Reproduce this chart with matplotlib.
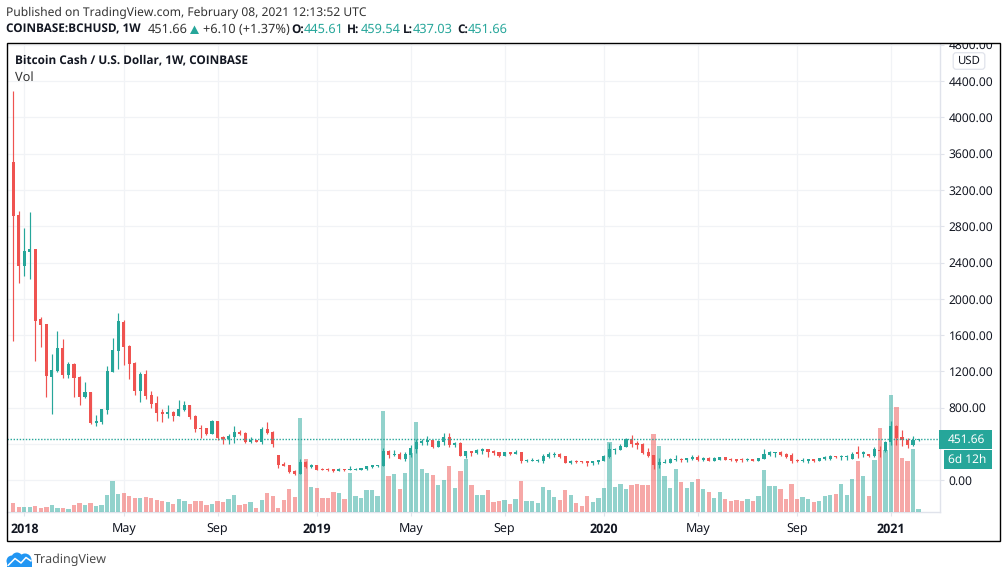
import matplotlib
matplotlib.use("Agg")
import matplotlib.pyplot as plt
import matplotlib.dates as mdates
import pandas as pd
from matplotlib.patches import Rectangle, FancyBboxPatch, Polygon, Circle
from matplotlib.transforms import Bbox

plt.rcParams['font.family'] = ['Noto Sans', 'DejaVu Sans']
plt.rcParams['text.hinting'] = 'none'
BOLD_FONT = ['Open Sans', 'Liberation Sans', 'DejaVu Sans']

# ---- data (weekly candles) ----
start_week = "2017-12-18"
opens = [3507,2923,2365,2519,2549,1777,1722,1142,1204,1458,
         1164,1282,1138,922,973,631,646,775,1193,1425,
         1744,1480,1293,984,1171,940,852,753,731,753,
         712,775,830,709,576,576,510,653,477,451,
         477,534,523,427,445,427,567,534,278,179,
         167,97,68,201,145,167,127,127,123,101,
         123,112,112,112,123,145,156,156,323,278,
         290,234,278,345,412,423,445,367,423,478,
         390,412,267,323,301,323,345,323,312,267,
         312,290,312,212,212,212,212,256,278,290,
         267,190,212,212,212,190,201,212,256,334,
         334,367,456,412,401,312,278,167,190,190,
         223,234,223,234,256,223,249,216,223,253,
         238,238,231,219,238,212,234,283,298,316,
         294,279,227,212,212,231,208,231,231,264,
         253,253,234,309,294,286,264,339,324,417,
         603,480,446,387,445.61]
highs = [4290,2968,2780,2957,2549,1799,1722,1392,1645,1557,
         1304,1293,1149,1083,973,720,786,1260,1568,1844,
         1766,1491,1304,1193,1215,984,929,786,830,764,
         885,874,830,720,609,576,664,653,488,510,
         598,556,530,478,447,589,645,545,278,201,
         167,108,234,212,179,167,138,138,123,134,
         123,156,134,134,156,167,167,356,334,334,
         312,312,390,456,456,489,445,445,523,523,
         423,423,323,323,345,356,345,334,312,312,
         312,334,312,234,245,234,290,312,312,301,
         267,223,223,212,212,212,223,278,412,356,
         401,467,500,434,412,356,278,245,234,245,
         278,245,245,278,278,253,253,253,260,253,
         249,238,242,249,238,249,346,324,309,324,
         301,301,234,242,231,231,249,272,279,272,
         275,275,309,376,324,294,368,376,435,658,
         614,558,465,491,459.54]
lows = [1539,2178,2255,2218,1318,1473,922,734,1193,1131,
        1131,922,833,911,620,602,624,734,1193,1226,
        1270,1116,940,863,896,797,653,642,687,653,
        712,764,676,532,466,499,510,444,400,400,
        411,497,415,415,425,404,508,371,138,156,
        79,60,68,134,134,112,112,101,90,101,
        101,112,112,112,112,134,145,156,245,267,
        234,212,256,301,390,390,356,367,390,367,
        367,267,245,267,290,290,256,278,256,267,
        278,290,190,201,212,201,190,245,256,245,
        190,179,190,190,156,167,179,212,245,290,
        334,367,367,345,290,256,123,134,190,190,
        212,201,201,223,212,216,212,212,223,227,
        212,197,205,212,212,212,234,268,253,268,
        246,190,205,205,190,201,208,223,223,246,
        223,223,234,246,253,253,253,253,316,391,
        391,379,361,379,437.03]
closes = [2916,2365,2527,2549,1759,1715,1153,1215,1458,1164,
          1282,1131,922,973,631,653,786,1204,1436,1755,
          1473,1282,984,1171,929,841,745,731,753,712,
          786,830,698,569,565,510,653,466,455,488,
          532,512,427,445,427,567,523,404,171,156,
          90,68,201,145,167,112,112,112,101,123,
          112,123,123,134,156,167,167,323,278,290,
          234,290,356,423,434,445,367,434,478,390,
          412,267,323,301,334,345,312,301,267,312,
          290,312,212,223,223,223,267,290,290,256,
          190,212,201,201,190,212,223,267,345,345,
          378,456,401,390,301,267,167,201,201,234,
          234,223,245,256,223,246,216,242,257,227,
          223,216,219,238,216,249,290,309,309,275,
          257,208,212,223,231,212,242,257,272,253,
          264,264,294,294,305,264,342,324,424,603,
          465,439,391,446,451.66]
volumes = [27,15,15,15,18,12,15,21,12,12,
           9,21,27,21,27,18,21,51,93,54,
           57,48,42,42,45,42,36,33,30,24,
           39,33,24,33,33,21,24,33,30,39,
           51,21,24,30,12,36,57,48,12,36,
           69,45,282,159,75,72,42,42,60,57,
           39,117,48,42,66,66,48,303,108,114,
           69,117,177,270,129,117,111,81,96,138,
           72,123,159,81,51,51,66,30,33,36,
           24,39,93,33,33,27,75,66,45,36,
           66,51,27,18,48,30,42,72,210,75,
           84,69,81,84,81,81,234,198,108,72,
           129,90,72,90,99,69,60,42,60,39,
           33,36,33,39,33,48,126,78,78,69,
           39,84,39,45,39,30,33,48,51,54,
           84,51,99,153,108,48,156,252,186,351,
           315,162,153,189,9]

price_ticks = [0,400,800,1200,1600,2000,2400,2800,3200,3600,4000,4400,4800]
time_ticks = ["2018-01-01","2018-05-07","2018-09-03","2019-01-07","2019-05-06","2019-09-02",
              "2020-01-06","2020-05-04","2020-09-07","2021-01-04"]
time_labels = ["2018","May","Sep","2019","May","Sep","2020","May","Sep","2021"]
last_price = 451.66

# ---- styles ----
W, H = 1006, 578
GREEN, RED = "#26a69a", "#ef5350"
INK = "#131722"
GRID = "#f1f3f6"
SEP = "#e0e3eb"

dates = pd.date_range(start_week, periods=len(opens), freq="W-MON")
xs = mdates.date2num(dates)
week0 = mdates.date2num(pd.Timestamp("2018-01-01"))

fig = plt.figure(figsize=(W/100, H/100), dpi=100, facecolor="white")
L, R, T, B = 7.0, 939.5, 44.0, 512.3
rect = [L/W, 1-B/H, (R-L)/W, (B-T)/H]
ax_grid = fig.add_axes(rect, zorder=1)
ax_vol = fig.add_axes(rect, zorder=2, sharex=ax_grid)
ax = fig.add_axes(rect, zorder=3, sharex=ax_grid)
for a in (ax_vol, ax):
    a.patch.set_alpha(0)
    a.set_axis_off()

# x scale: 5.52 px per week, first of January 2018 at px 24.3
pxw = 5.52
ax_grid.set_xlim(week0 + (L-24.3)/pxw*7, week0 + (R-24.3)/pxw*7)
# y scale: 0 at px 480.3, 0.09075 px per dollar
pp = 0.09075
ylim = ((480.3-B)/pp, (480.3-T)/pp)
ax_grid.set_ylim(*ylim)
ax.set_ylim(*ylim)
ax_vol.set_ylim(0, (B-T)*3)

ax_grid.yaxis.tick_right()
ax_grid.set_yticks(price_ticks)
# the 400.00 label sits behind the last-price tag in the reference
ax_grid.set_yticklabels(["" if v == 400 else f"{v:.2f}" for v in price_ticks], fontsize=8.7, color=INK)
ax_grid.set_xticks(mdates.date2num(pd.to_datetime(time_ticks)))
ax_grid.set_xticklabels(time_labels, fontsize=9.0, color=INK)
for t, s in zip(ax_grid.get_xticklabels(), time_labels):
    if s.isdigit():
        t.set_fontweight("bold")
        t.set_fontfamily(BOLD_FONT)
ax_grid.tick_params(axis="both", length=3, width=0.8, color=SEP, pad=3.5)
ax_grid.tick_params(axis="x", pad=4.5)
ax_grid.grid(True, color=GRID, lw=0.9)
ax_grid.set_axisbelow(True)
for s in ("top", "left"):
    ax_grid.spines[s].set_visible(False)
for s in ("right", "bottom"):
    ax_grid.spines[s].set_color(SEP)
    ax_grid.spines[s].set_linewidth(1.0)
clip = Bbox([[6.7, H-541.3], [1000, H-43.3]])
for t in ax_grid.get_yticklabels():
    t.set_clip_on(True)
    t.set_clip_box(clip)

up = [c >= o for o, c in zip(opens, closes)]
cols = [GREEN if u else RED for u in up]
ax_vol.bar(xs, volumes, width=5.4, color=cols, alpha=0.5, lw=0)
ax.vlines(xs, lows, highs, colors=cols, lw=0.85)
ax.bar(xs, [max(abs(c-o), 14) for o, c in zip(opens, closes)],
       bottom=[min(o, c) for o, c in zip(opens, closes)],
       width=3.9, color=cols, lw=0)
ax.axhline(last_price, color=GREEN, lw=1.0, ls=(0, (1, 1.2)))

# overlay in pixel coordinates: frame, labels, header
ov = fig.add_axes([0, 0, 1, 1], zorder=5)
ov.set_xlim(0, W)
ov.set_ylim(H, 0)
ov.set_axis_off()
ov.patch.set_alpha(0)
ov.add_patch(Rectangle((6.7, 43.3), 993.3, 498, fill=False, ec="black", lw=1.0))

def put(x, y, s, size=8.6, color=INK, bold=False, ha="left"):
    kw = dict(fontweight="bold", fontfamily=BOLD_FONT) if bold else {}
    ov.text(x, y, s, fontsize=size, color=color, ha=ha, va="center", **kw)

ov.add_patch(Rectangle((939, 430), 53, 19.3, fc=GREEN, ec="none"))
ov.add_patch(Rectangle((944, 449.8), 48, 19.3, fc=GREEN, ec="none"))
put(948, 439.7, "451.66", color="white")
put(948, 459.4, "6d 12h", color="white")
ov.add_patch(FancyBboxPatch((955, 54.5), 28, 13, boxstyle="round,pad=1.8,rounding_size=3",
                            fc="white", ec=SEP, lw=0.9))
put(969, 60.5, "USD", size=8.2, ha="center")

TXT = "#333333"
put(6.3, 12.5, "Published on TradingView.com, February 08, 2021 12:13:52 UTC", size=8.7, color=TXT)
HL = "#26a69a"
put(6.3, 29.5, "COINBASE:BCHUSD, 1W", size=8.5, bold=True)
put(148, 29.5, "451.66", size=9.2, color=TXT)
ov.add_patch(Polygon([[190, 34], [199, 34], [194.5, 25.5]], fc=GREEN, ec="none"))
put(203, 29.5, "+6.10 (+1.37%)", size=9.2, color=TXT)
for lab, lx, val, vx in [("O:", 291, "445.61", 304), ("H:", 347, "459.54", 361),
                         ("L:", 403, "437.03", 413), ("C:", 457, "451.66", 468)]:
    put(lx, 29.5, lab, size=8.5, bold=True)
    put(vx, 29.5, val, size=9.2, color=HL)
put(15, 60.5, "Bitcoin Cash / U.S. Dollar, 1W, COINBASE", size=8.5, bold=True)
put(15, 77.5, "Vol", size=9.2, color=TXT)

# TradingView logo
BLUE = "#2196f3"
ov.add_patch(Circle((12, 561), 5.5, fc=BLUE, ec="none"))
ov.add_patch(Circle((17, 558), 5.5, fc=BLUE, ec="none"))
ov.add_patch(Circle((25, 560), 6.5, fc=BLUE, ec="none"))
ov.add_patch(Rectangle((7, 561), 25, 5.5, fc=BLUE, ec="none"))
ov.plot([8, 15, 21, 26, 31], [565.5, 558.5, 563, 557.5, 561], color="white", lw=1.1, solid_capstyle="round")
put(34, 559.5, "TradingView", size=9.0, color="#4a4a4a")

fig.savefig("out.png", dpi=100)
